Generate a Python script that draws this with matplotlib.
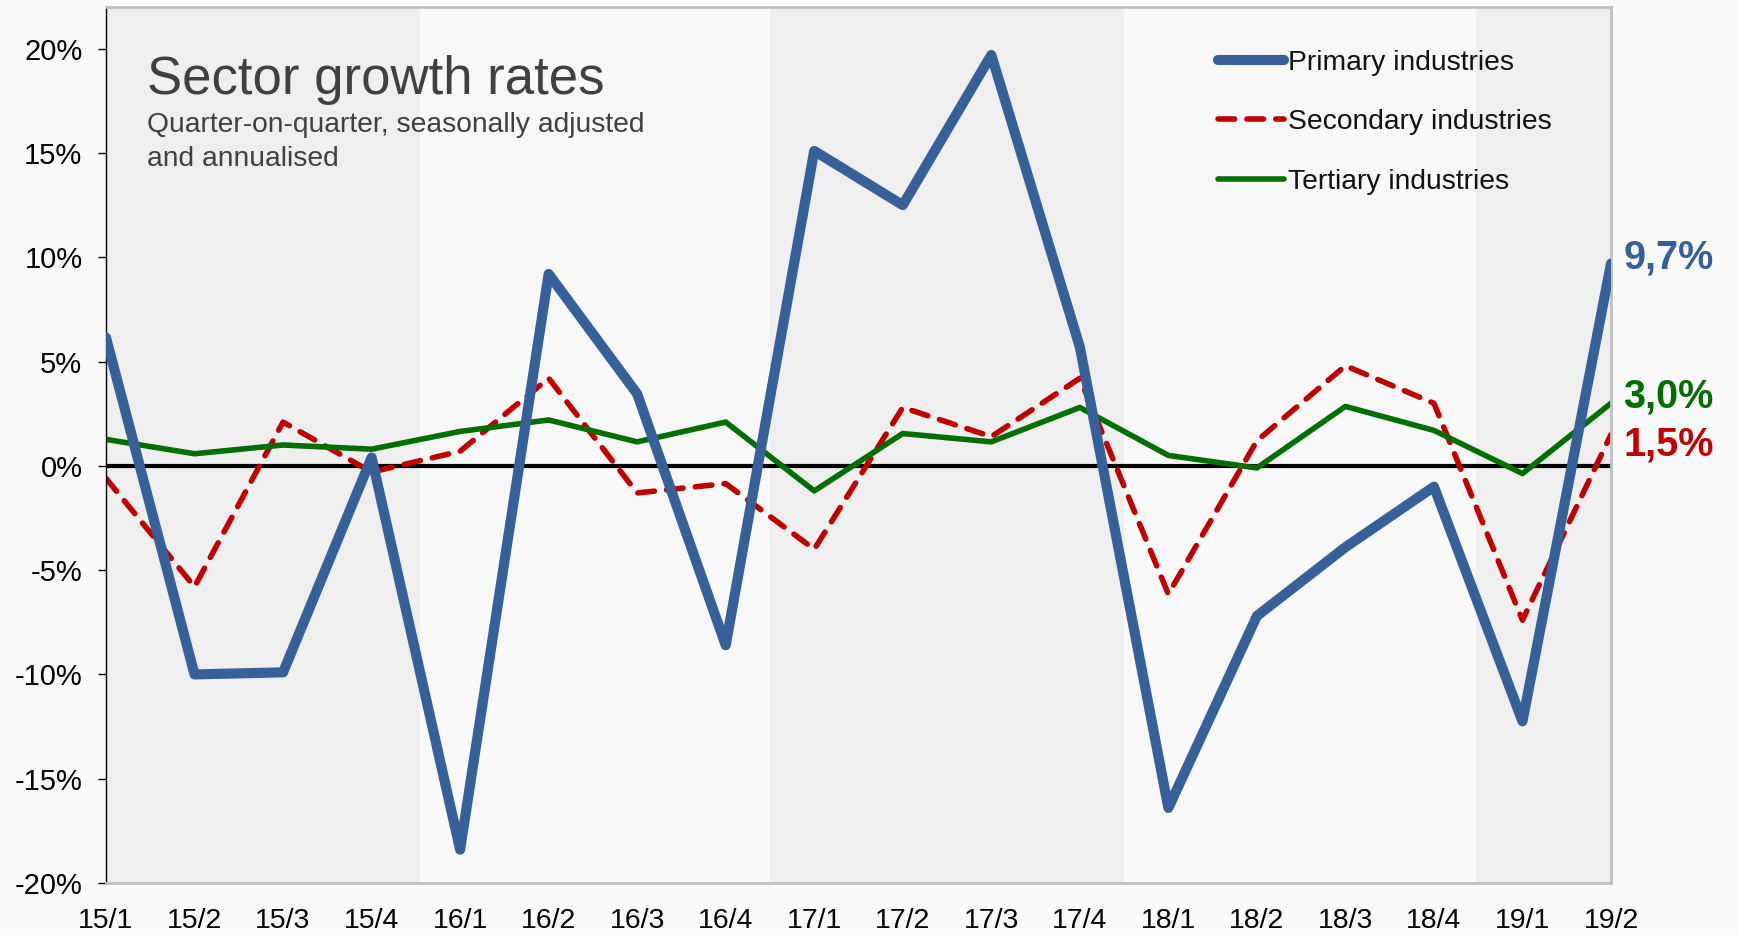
import matplotlib
matplotlib.use("Agg")
import matplotlib.pyplot as plt

# quarterly growth, % q/q saar
quarters = ["15/1", "15/2", "15/3", "15/4", "16/1", "16/2", "16/3", "16/4",
            "17/1", "17/2", "17/3", "17/4", "18/1", "18/2", "18/3", "18/4",
            "19/1", "19/2"]
primary = [6.15, -10.0, -9.9, 0.4, -18.4, 9.2, 3.45, -8.6,
           15.1, 12.5, 19.7, 5.7, -16.4, -7.2, -3.9, -1.0, -12.25, 9.7]
secondary = [-0.6, -5.8, 2.1, -0.3, 0.7, 4.2, -1.3, -0.85,
             -4.0, 2.8, 1.4, 4.2, -6.15, 1.2, 4.8, 3.0, -7.4, 1.5]
tertiary = [1.27, 0.58, 1.0, 0.8, 1.65, 2.2, 1.15, 2.1,
            -1.2, 1.55, 1.15, 2.8, 0.5, -0.1, 2.85, 1.7, -0.37, 3.0]
yticks = [-20, -15, -10, -5, 0, 5, 10, 15, 20]

BLUE, RED, GREEN = "#36609a", "#c00000", "#006e00"
SHADE, LIGHT, BG = "#efefef", "#f8f8f8", "#fafafa"
plt.rcParams["font.family"] = ["Liberation Sans", "DejaVu Sans"]

W, H = 1738, 935
fig = plt.figure(figsize=(W / 100, H / 100), dpi=100, facecolor=BG)
ax = fig.add_axes([106 / W, 1 - 883 / H, (1611 - 106) / W, (883 - 7) / H])
ax.set_facecolor(LIGHT)

x = list(range(len(quarters)))
ax.set_xlim(0, len(quarters) - 1)
ax.set_ylim(-20, 22)

# alternate year shading (15, 17, 19 darker)
for start, end in [(-0.5, 3.55), (7.5, 11.5), (15.47, 17.5)]:
    ax.axvspan(start, end, color=SHADE, lw=0, zorder=0)

ax.axhline(0, color="black", lw=3, zorder=1)

ax.plot(x, primary, color=BLUE, lw=7.3, solid_joinstyle="round",
        solid_capstyle="round", label="Primary industries", zorder=3)
ax.plot(x, secondary, color=RED, lw=4.0, dashes=(3.0, 2.2),
        dash_capstyle="round", dash_joinstyle="round",
        label="Secondary industries", zorder=2)
ax.plot(x, tertiary, color=GREEN, lw=4.0, solid_joinstyle="round",
        solid_capstyle="round", label="Tertiary industries", zorder=2)

# end labels
for vals, col, off in [(primary, BLUE, 4), (tertiary, GREEN, 5), (secondary, RED, -7)]:
    ax.annotate(f"{vals[-1]:.1f}%".replace(".", ","), xy=(x[-1], vals[-1]),
                xytext=(9, off), textcoords="offset points", ha="left",
                va="center", fontsize=28.5, fontweight="bold", color=col,
                annotation_clip=False)

ax.set_xticks(x)
ax.set_xticklabels(quarters, fontsize=20.5)
ax.set_yticks(yticks)
ax.set_yticklabels([f"{v}%" for v in yticks], fontsize=21)
ax.tick_params(axis="x", length=0, pad=18)
ax.tick_params(axis="y", length=6, width=1, color="black", pad=11)

ax.spines["left"].set_color("black")
ax.spines["left"].set_linewidth(1)
for s in ["top", "right", "bottom"]:
    ax.spines[s].set_color("#c0c0c0")
    ax.spines[s].set_linewidth(2)

ax.text(147 / W, 1 - 94 / H, "Sector growth rates", transform=fig.transFigure,
        fontsize=38, color="#404040", va="baseline", ha="left")
ax.text(147 / W, 1 - 112 / H, "Quarter-on-quarter, seasonally adjusted\nand annualised",
        transform=fig.transFigure, fontsize=20.3, color="#404040",
        va="top", ha="left", linespacing=1.38)

leg = ax.legend(loc="upper left", bbox_to_anchor=(1218 / W, 1 - 50 / H),
                bbox_transform=fig.transFigure, frameon=False, fontsize=20.3,
                handlelength=2.35, handletextpad=0.15, labelspacing=1.18,
                borderpad=0, borderaxespad=0)
for t in leg.get_texts():
    t.set_color("#111111")

fig.savefig("out.png", dpi=100, facecolor=BG)
